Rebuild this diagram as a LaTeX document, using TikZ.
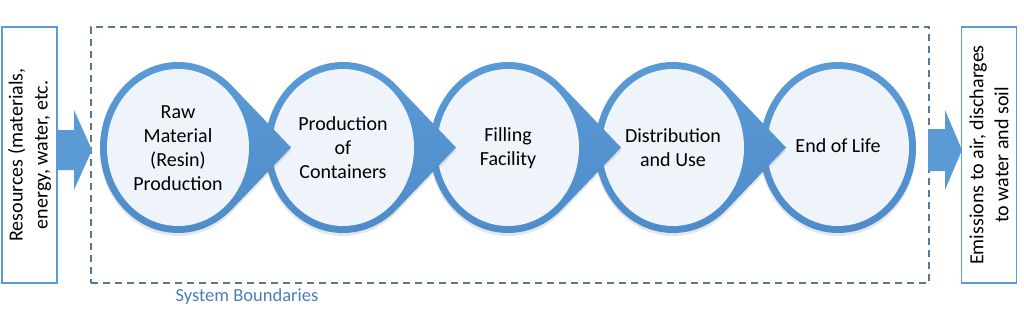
\documentclass[tikz,border=0pt]{standalone}
\usepackage{fontspec}
\setmainfont{Carlito}
\usepackage{xcolor}
\usetikzlibrary{shadows}

\definecolor{ringblue}{HTML}{5B9BD5}
\definecolor{ringdark}{HTML}{4D8BCA}
\definecolor{innerfill}{HTML}{EEF4FA}
\definecolor{boundgray}{HTML}{5A7890}
\definecolor{labelblue}{HTML}{4A7EBB}

% teardrop stage: centre x, tip points to the right
\newcommand{\stagedrop}[1]{%
  \path[top color=ringblue, bottom color=ringdark,
        drop shadow={shadow xshift=0pt, shadow yshift=-3pt, opacity=0.2}]
    (#1+113,166.5) -- ([shift={(#1,166.5)}]46.4:78 and 85.5)
    arc[start angle=46.4, end angle=313.6, x radius=78, y radius=85.5] -- cycle;
  \fill[innerfill] (#1,166.5) ellipse[x radius=71, y radius=78.5];}

\begin{document}
\begin{tikzpicture}[x=1pt, y=1pt,
    stagetext/.style={align=center, font=\fontsize{20}{24}\selectfont},
    iobox/.style={draw=ringblue, line width=1.3pt, rotate=90, minimum width=256pt,
        minimum height=55pt, inner sep=0pt, align=center, font=\fontsize{20}{25}\selectfont},
    boundbox/.style={draw=boundgray, line width=1.5pt, dash pattern=on 7pt off 5pt,
        minimum width=838pt, minimum height=256pt, inner sep=0pt},
    blockfill/.style={fill=ringblue}]
    \useasboundingbox (0,0) rectangle (1024,314);

    % Input / output boxes and the system boundary
    \node[iobox] (res) at (29.5,159) {Resources (materials,\\energy, water, etc.};
    \node[iobox] (emis) at (989,159) {Emissions to air, discharges\\to water and soil};
    \node[boundbox] (bound) at (510,159) {};
    \node[font=\fontsize{18.5}{22}\selectfont, text=labelblue] (sysb) at (247,17) {System Boundaries};

    % Coordinates for the block arrows
    \coordinate (resout) at (57,164);
    \coordinate (emisin) at (928,164);

    % Block arrows
    \fill[blockfill, shift={(resout)}] (0,-20) -- (17,-20) -- (17,-40) -- (35,0)
        -- (17,40) -- (17,20) -- (0,20) -- cycle;
    \fill[blockfill, shift={(emisin)}] (0,-21) -- (17,-21) -- (17,-40) -- (34,0)
        -- (17,40) -- (17,21) -- (0,21) -- cycle;

    % --- Stages, drawn from right to left ---
    \path[top color=ringblue, bottom color=ringdark,
          drop shadow={shadow xshift=0pt, shadow yshift=-3pt, opacity=0.2}]
        (838,166.5) ellipse[x radius=78, y radius=85.5];
    \fill[innerfill] (838,166.5) ellipse[x radius=71, y radius=78.5];
    \foreach \cx in {673,508,343,178}
        \stagedrop{\cx};

    % Stage labels
    \node[stagetext] (raw) at (178,166) {Raw\\Material\\(Resin)\\Production};
    \node[stagetext] (cont) at (343,166) {Production\\of\\Containers};
    \node[stagetext] (fill) at (508,166) {Filling\\Facility};
    \node[stagetext] (dist) at (673,166) {Distribution\\and Use};
    \node[stagetext] (eol) at (838,168) {End of Life};
\end{tikzpicture}
\end{document}
